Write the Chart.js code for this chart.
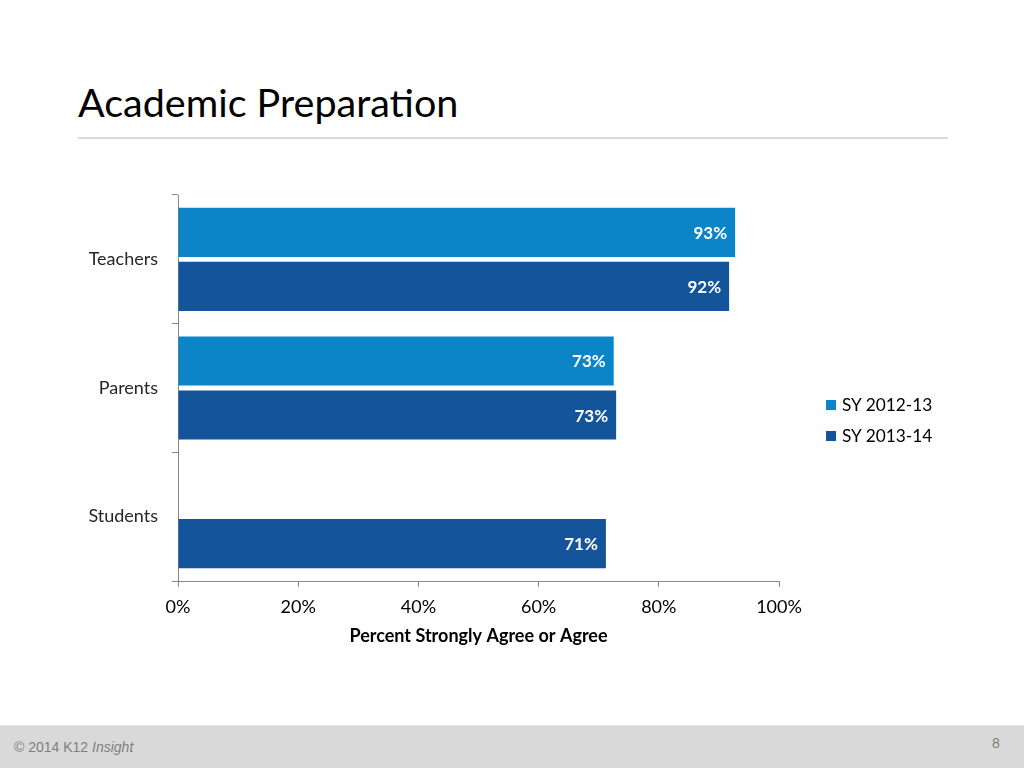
<!DOCTYPE html>
<html>
<head>
<meta charset="utf-8">
<script src="https://cdn.jsdelivr.net/npm/chart.js@4/dist/chart.umd.min.js"></script>
<style>
	body { margin:0; width:1024px; height:768px; position:relative; background:#fff; overflow:hidden; font-family:Lato, 'Open Sans', sans-serif; }
	#title { position:absolute; left:78px; top:78px; font-size:39.5px; color:#000; white-space:nowrap; }
	#rule { position:absolute; left:78px; top:137px; width:870px; height:2px; background:#d9d9d9; }
	#wrap { position:absolute; left:0; top:0; width:1024px; height:768px; }
	#legend { position:absolute; left:826px; top:394px; font-size:17.3px; color:#000; }
	#legend div { height:31px; line-height:22px; white-space:nowrap; }
	#legend span { display:inline-block; width:10px; height:10px; margin-right:6px; vertical-align:1px; }
	#footer { position:absolute; left:0; top:725px; width:1024px; height:43px; background:#d9d9d9; border-top:1px solid #e4e4e4; font-family:'Liberation Sans', Arial, sans-serif; color:#7f7f7f; font-size:14px; }
	#copy { position:absolute; left:14px; top:13px; }
	#page { position:absolute; left:992px; top:9px; }
</style>
</head>
<body>
<div id="title">Academic Preparation</div>
<div id="rule"></div>
<div id="wrap"><canvas id="myChart"></canvas></div>
<div id="legend"></div>
<div id="footer"><div id="copy">© 2014 K12 <i>Insight</i></div><div id="page">8</div></div>
<script>
let categories = ['Teachers', 'Parents', 'Students'];
let seriesNames = ['SY 2012-13', 'SY 2013-14'];
let sy2012 = [92.7, 72.5, null];
let sy2013 = [91.7, 72.9, 71.2];
let colors = ['#0b85c7', '#14549a'];
let xTicks = [0, 20, 40, 60, 80, 100];

const labelPlugin = {
	id: 'barLabels',
	afterDatasetsDraw(chart) {
		let ctx = chart.ctx;
		ctx.save();
		ctx.font = 'bold 17px Lato, sans-serif';
		ctx.fillStyle = '#fff';
		ctx.textAlign = 'right';
		ctx.textBaseline = 'middle';
		chart.data.datasets.forEach((ds, i) => {
			chart.getDatasetMeta(i).data.forEach((bar, j) => {
				if(ds.data[j] == null) return;
				ctx.fillText(Math.round(ds.data[j]) + '%', bar.x - 8, bar.y + 1);
			});
		});
		ctx.restore();
	}
};

const ctx = document.getElementById('myChart');
ctx.width = 1024; ctx.height = 768;

new Chart(ctx, {
	type: 'bar',
	data: {
		labels: categories,
		datasets: [
			{ label: seriesNames[0], data: sy2012, backgroundColor: colors[0] },
			{ label: seriesNames[1], data: sy2013, backgroundColor: colors[1] }
		]
	},
	plugins: [labelPlugin],
	options: {
		indexAxis: 'y',
		responsive: false,
		animation: false,
		devicePixelRatio: 1,
		categoryPercentage: 0.84,
		barPercentage: 0.91,
		layout: { padding: { left: 0, right: 245, top: 195, bottom: 107 } },
		plugins: { legend: { display: false }, tooltip: { enabled: false } },
		scales: {
			x: {
				min: 0, max: 100,
				afterFit: s => { s.height = 80; },
				afterBuildTicks: s => { s.ticks = xTicks.map(v => ({ value: v })); },
				grid: { drawOnChartArea: false, tickLength: 6, color: '#888' },
				border: { color: '#888' },
				ticks: { padding: 9, color: '#000', font: { size: 18, family: 'Lato, sans-serif' }, callback: v => v + '%' },
				title: { display: true, text: 'Percent Strongly Agree or Agree', color: '#000', font: { size: 18, weight: 'bold', family: 'Lato, sans-serif' }, padding: { top: 0, bottom: 14 } }
			},
			y: {
				afterFit: s => { s.width = 178; },
				grid: { drawOnChartArea: false, tickLength: 6, color: '#888', offset: true },
				border: { color: '#888' },
				ticks: { padding: 14, color: '#262626', font: { size: 18, family: 'Lato, sans-serif' } }
			}
		}
	}
});

let $legend = document.querySelector('#legend');
$legend.innerHTML = seriesNames.map((n, i) => '<div><span style="background:' + colors[i] + '"></span>' + n + '</div>').join('');
</script>
</body>
</html>
